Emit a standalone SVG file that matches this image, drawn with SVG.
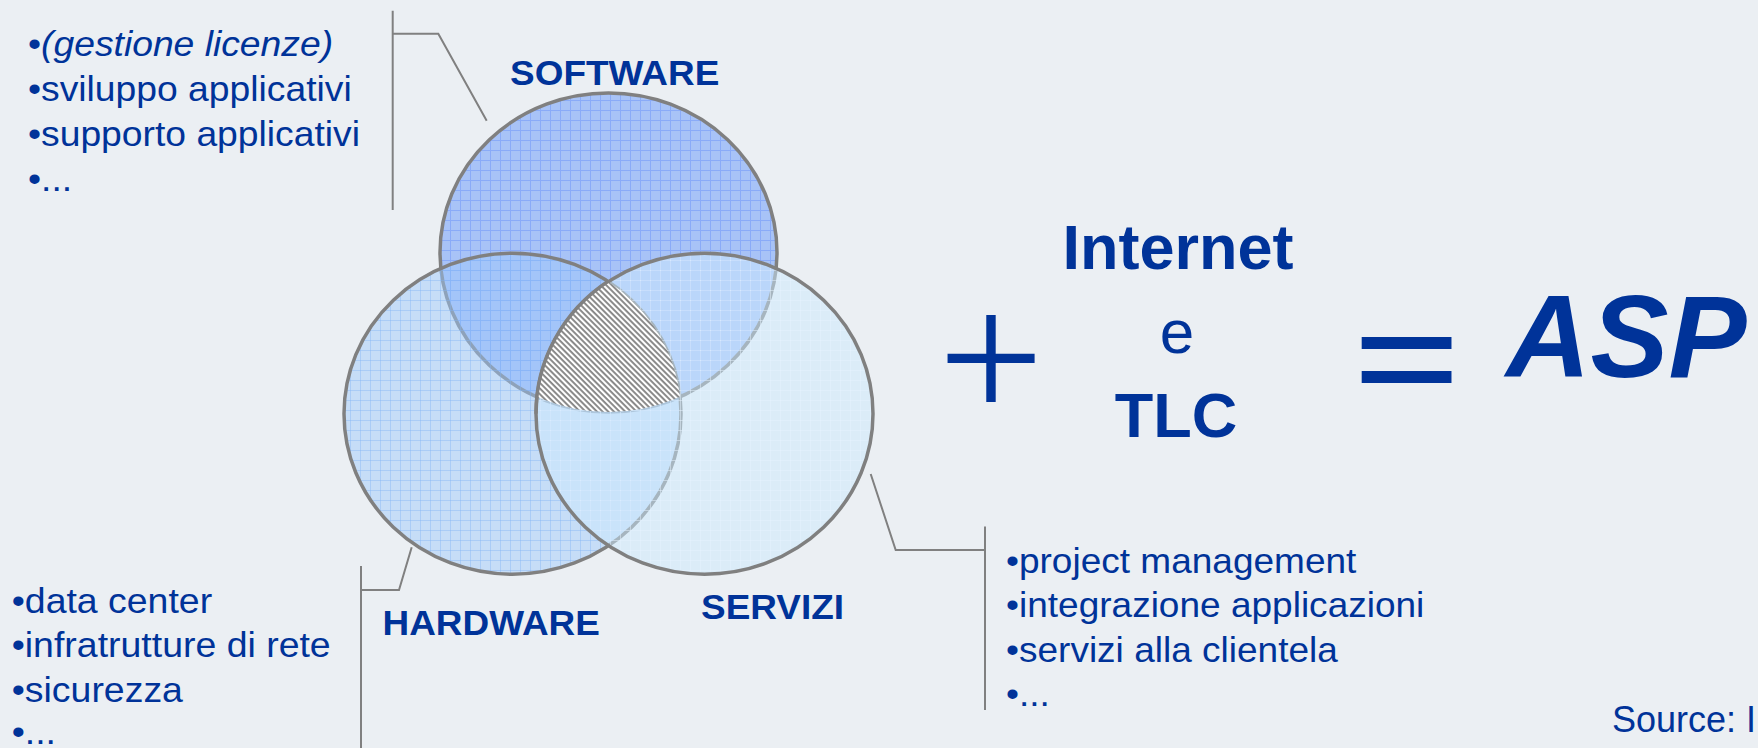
<svg xmlns="http://www.w3.org/2000/svg" width="1758" height="748" viewBox="0 0 1758 748">
<style>
.txt{font-family:"Liberation Sans",Arial,sans-serif;fill:#003399}
.serif{font-family:"Liberation Serif","Times New Roman",serif}
.list{font-size:35px}
.lbl{font-size:35px;font-weight:bold;text-anchor:middle}
.big{font-size:63px;font-weight:bold;text-anchor:middle}
.circ{stroke:#808080;stroke-width:3.5}
.conn{fill:none;stroke:#808080;stroke-width:2}
</style>
<defs>
<pattern id="gridTop" width="10" height="10" patternUnits="userSpaceOnUse">
<rect width="10" height="10" fill="#A8C3F7"/>
<path d="M0 0.5H10M0.5 0V10" stroke="#8AABF8" stroke-width="1"/>
</pattern>
<pattern id="gridLeft" width="10" height="10" patternUnits="userSpaceOnUse">
<rect width="10" height="10" fill="#9EC8FA" fill-opacity="0.47"/>
<path d="M0 0.5H10M0.5 0V10" stroke="#80B4F4" stroke-opacity="0.4" stroke-width="1"/>
</pattern>
<pattern id="gridRight" width="10" height="10" patternUnits="userSpaceOnUse">
<rect width="10" height="10" fill="#CBEAFE" fill-opacity="0.5"/>
<path d="M0 0.5H10M0.5 0V10" stroke="#E6F4FF" stroke-opacity="0.5" stroke-width="1"/>
</pattern>
<pattern id="hatch" width="4" height="4" patternUnits="userSpaceOnUse" patternTransform="rotate(45)">
<rect width="4" height="4" fill="#FFFFFF"/>
<rect width="4" height="1.9" fill="#858585"/>
</pattern>
<clipPath id="clipTop"><ellipse cx="608.5" cy="252.5" rx="168.5" ry="159.5"/></clipPath>
<clipPath id="clipLeft"><ellipse cx="512.5" cy="413.7" rx="168.5" ry="160.5"/></clipPath>
</defs>
<rect width="1758" height="748" fill="#EBEFF3"/>

<g id="software">
<ellipse class="circ" cx="608.5" cy="252.5" rx="168.5" ry="159.5" fill="url(#gridTop)"/>
<text class="txt lbl" transform="translate(614.7 85) scale(1.055 1)">SOFTWARE</text>
</g>
<g id="hardware">
<ellipse class="circ" cx="512.5" cy="413.7" rx="168.5" ry="160.5" fill="url(#gridLeft)"/>
<text class="txt lbl" transform="translate(491.2 635) scale(1.055 1)">HARDWARE</text>
</g>
<g id="servizi">
<ellipse class="circ" cx="704.5" cy="413.7" rx="168.5" ry="160.5" fill="url(#gridRight)"/>
<text class="txt lbl" transform="translate(772.5 619.3) scale(1.055 1)">SERVIZI</text>
</g>
<g id="intersection">
<g clip-path="url(#clipTop)"><g clip-path="url(#clipLeft)">
<ellipse cx="704.5" cy="413.7" rx="168.5" ry="160.5" fill="url(#hatch)"/>
</g></g>
<path class="circ" fill="none" d="M608.5 281 A168.5 160.5 0 0 0 536 413.7"/>
</g>

<g id="software-list" class="txt list" transform="translate(28 0) scale(1.065 1)">
<text y="56.5">•<tspan font-style="italic">(gestione licenze)</tspan></text>
<text y="101.5">•sviluppo applicativi</text>
<text y="146.5">•supporto applicativi</text>
<text y="191">•...</text>
</g>
<g id="hardware-list" class="txt list" transform="translate(11.7 0) scale(1.07 1)">
<text y="612.7">•data center</text>
<text y="657.3">•infratrutture di rete</text>
<text y="701.7">•sicurezza</text>
<text y="744">•...</text>
</g>
<g id="servizi-list" class="txt list" transform="translate(1006 0) scale(1.058 1)">
<text y="572.7">•project management</text>
<text y="617.3">•integrazione applicazioni</text>
<text y="661.7">•servizi alla clientela</text>
<text y="706">•...</text>
</g>

<g id="connectors">
<path class="conn" d="M392.7 10.7V210M392.7 33.7H438.3L486.7 120.7"/>
<path class="conn" d="M361 566V748M361 590H399L411.7 547.3"/>
<path class="conn" d="M985 526.5V710M985 550H895.7L870.7 474"/>
</g>

<g id="formula">
<text class="txt serif" x="991" y="419.7" font-size="187" text-anchor="middle">+</text>
<text class="txt big" x="1178" y="269.3">Internet</text>
<text class="txt" x="1177" y="353.3" font-size="62" text-anchor="middle">e</text>
<text class="txt big" x="1176" y="437.3">TLC</text>
<text class="txt" transform="translate(1406.7 404.7) scale(1.3 1)" font-size="138" text-anchor="middle" stroke="#003399" stroke-width="2">=</text>
<text class="txt" x="1506" y="377.3" font-size="117" font-weight="bold" font-style="italic">ASP</text>
</g>
<g id="source">
<text class="txt" x="1612" y="731.7" font-size="36">Source: I</text>
</g>
</svg>
